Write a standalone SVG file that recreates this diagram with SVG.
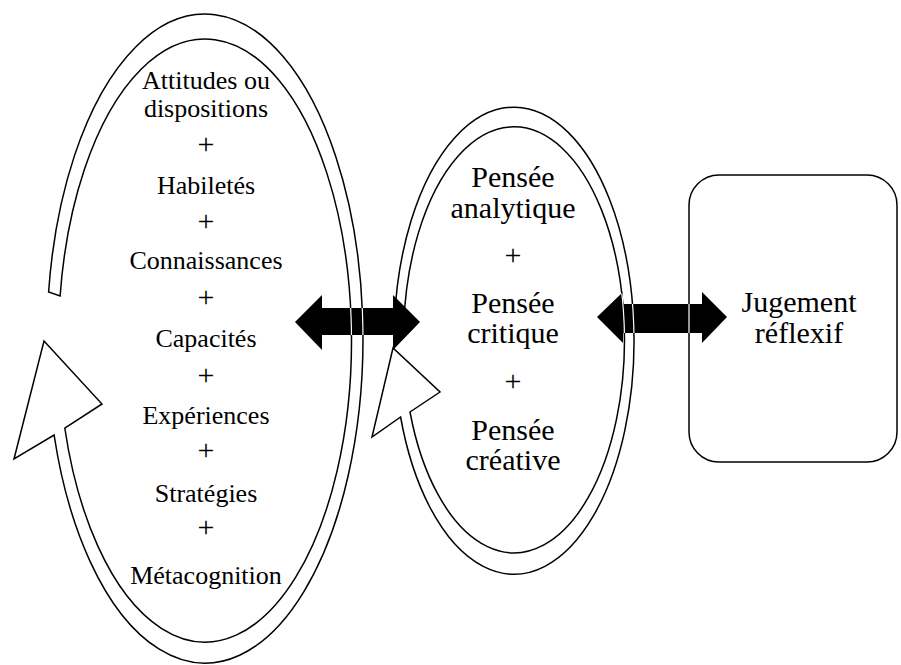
<svg xmlns="http://www.w3.org/2000/svg" xmlns:xlink="http://www.w3.org/1999/xlink" width="901" height="665" viewBox="0 0 901 665">
  <style>
    .band { fill: #ffffff; stroke: #000000; stroke-width: 1.5; stroke-linejoin: miter; }
    .box { fill: #ffffff; stroke: #000000; stroke-width: 1.5; }
    .knock { fill: none; stroke: #ffffff; stroke-width: 1.2; }
    .arrow { fill: #000000; stroke: none; }
    text { font-family: 'Liberation Serif', 'Times New Roman', 'DejaVu Serif', serif; fill: #000000; text-anchor: middle; }
    .s26 { font-size: 26px; }
    .s31 { font-size: 30px; }
    .plus { font-size: 30px; }
  </style>
  <defs>
    <!-- cycle band around the left ellipse, with its hollow arrowhead -->
    <path id="bandLeft" d="M54.1,435 A158,324.5 0 1 0 48.6,292 L60.1,296 A146.5,301.5 0 1 1 64.8,428 L102,404 L44,341 L14,459 Z"/>
    <!-- cycle band around the middle ellipse -->
    <path id="bandMid" d="M400.6,417 A120,233.5 0 1 0 394.4,322 L403.7,326 A110.5,213 0 1 1 410,412 L440,392 L393,348 L372,437 Z"/>
    <rect id="boxRight" x="689" y="175" width="208" height="287" rx="30" ry="30"/>
    <polygon id="arrowA" points="295,322 322,295 322,308 393,308 393,295 420,322 393,350 393,335 322,335 322,350"/>
    <polygon id="arrowB" points="597,317 623,292 623,304 702,304 702,292 727,317 702,343 702,333 623,333 623,343"/>
    <clipPath id="clipA"><use xlink:href="#arrowA"/></clipPath>
    <clipPath id="clipB"><use xlink:href="#arrowB"/></clipPath>
  </defs>

  <g id="node-resources" font-family="Liberation Serif, serif">
    <use xlink:href="#bandLeft" class="band"/>
    <text class="s26" x="206" y="89">Attitudes ou</text>
    <text class="s26" x="206" y="117">dispositions</text>
    <text class="plus" x="206" y="154">+</text>
    <text class="s26" x="206" y="194">Habiletés</text>
    <text class="plus" x="206" y="231">+</text>
    <text class="s26" x="206" y="269">Connaissances</text>
    <text class="plus" x="206" y="307">+</text>
    <text class="s26" x="206" y="347">Capacités</text>
    <text class="plus" x="206" y="385">+</text>
    <text class="s26" x="206" y="424">Expériences</text>
    <text class="plus" x="206" y="460">+</text>
    <text class="s26" x="206" y="502">Stratégies</text>
    <text class="plus" x="206" y="537">+</text>
    <text class="s26" x="206" y="584">Métacognition</text>
  </g>

  <g id="node-thinking" font-family="Liberation Serif, serif">
    <use xlink:href="#bandMid" class="band"/>
    <text class="s31" x="513" y="187">Pensée</text>
    <text class="s31" x="513" y="218">analytique</text>
    <text class="s31" x="513" y="265">+</text>
    <text class="s31" x="513" y="313">Pensée</text>
    <text class="s31" x="513" y="343">critique</text>
    <text class="s31" x="513" y="391">+</text>
    <text class="s31" x="513" y="440">Pensée</text>
    <text class="s31" x="513" y="470">créative</text>
  </g>

  <g id="node-judgement" font-family="Liberation Serif, serif">
    <use xlink:href="#boxRight" class="box"/>
    <text class="s31" x="799" y="312">Jugement</text>
    <text class="s31" x="799" y="343">réflexif</text>
  </g>

  <g id="connectors">
    <use xlink:href="#arrowA" class="arrow"/>
    <use xlink:href="#arrowB" class="arrow"/>
    <!-- outlines showing through the solid arrows as thin white lines -->
    <g clip-path="url(#clipA)">
      <use xlink:href="#bandLeft" class="knock"/>
    </g>
    <g clip-path="url(#clipB)">
      <use xlink:href="#bandMid" class="knock"/>
      <use xlink:href="#boxRight" class="knock"/>
    </g>
  </g>
</svg>
